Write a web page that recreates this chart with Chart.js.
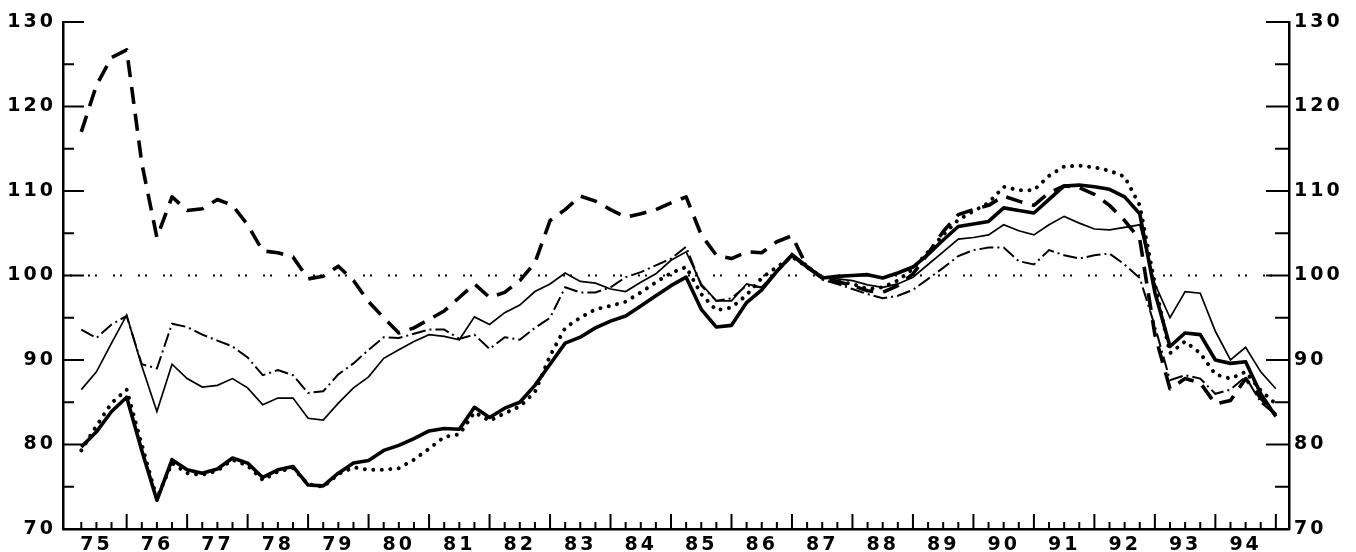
<!DOCTYPE html>
<html>
<head>
<meta charset="utf-8">
<script src="https://cdn.jsdelivr.net/npm/chart.js@4.4.1/dist/chart.umd.min.js"></script>
<style>
  html, body { margin: 0; padding: 0; background: #fff; }
  canvas { display: block; }
</style>
</head>
<body>
<canvas id="chart" width="1356" height="552"></canvas>
<script>
// quarterly index, 1975Q1 .. 1994Q4
const yearLabels = ['75', '76', '77', '78', '79', '80', '81', '82', '83', '84',
  '85', '86', '87', '88', '89', '90', '91', '92', '93', '94'];
const quarters = [];
yearLabels.forEach(y => { for (let q = 1; q <= 4; q++) quarters.push(y + 'Q' + q); });

const yTickLabels = [70, 80, 90, 100, 110, 120, 130];
const refLevel = 100;

const thickSolid = [
  79.7, 81.5, 83.9, 85.6, 79.3, 73.4, 78.2, 77.0, 76.6, 77.1,
  78.4, 77.8, 76.1, 77.0, 77.4, 75.2, 75.1, 76.6, 77.8, 78.1,
  79.3, 79.9, 80.7, 81.6, 81.9, 81.8, 84.4, 83.2, 84.3, 85.0,
  87.0, 89.5, 92.0, 92.7, 93.8, 94.6, 95.2, 96.4, 97.6, 98.8,
  99.8, 96.0, 93.9, 94.1, 96.8, 98.3, 100.5, 102.4, 101.0, 99.7,
  99.9, 100.0, 100.1, 99.7, 100.3, 101.0, 102.5, 104.2, 105.8, 106.1,
  106.4, 108.0, 107.7, 107.4, 109.0, 110.6, 110.7, 110.5, 110.2, 109.3,
  107.3, 98.0, 91.6, 93.2, 93.0, 90.0, 89.6, 89.8, 86.0, 83.3
];
const thinSolid = [
  86.5, 88.6, 92.0, 95.3, 89.3, 83.9, 89.5, 87.8, 86.8, 87.0,
  87.8, 86.7, 84.7, 85.5, 85.5, 83.1, 82.9, 84.9, 86.7, 88.0,
  90.2, 91.2, 92.2, 93.0, 92.8, 92.4, 95.1, 94.2, 95.6, 96.5,
  98.1, 99.0, 100.3, 99.3, 99.1, 98.4, 98.1, 99.2, 100.2, 101.8,
  102.8, 99.0, 97.0, 97.0, 99.0, 98.6, 100.6, 102.6, 101.2, 99.7,
  99.6, 99.4, 98.9, 98.6, 99.0, 99.8, 101.3, 102.8, 104.3, 104.5,
  104.8, 106.0, 105.3, 104.8, 106.0, 107.0, 106.2, 105.5, 105.4, 105.7,
  106.0, 99.0, 95.0, 98.1, 97.9, 93.4, 90.0, 91.5, 88.6, 86.6
];
const dotted = [
  79.3, 82.2, 84.9, 86.5, 80.0, 73.6, 77.8, 76.6, 76.4, 76.9,
  78.2, 77.5, 75.8, 76.8, 77.2, 75.3, 75.0, 76.5, 77.3, 77.0,
  77.0, 77.2, 78.2, 79.5, 80.9, 81.2, 83.8, 82.8, 83.7, 84.5,
  86.2, 90.5, 93.8, 95.0, 96.0, 96.4, 96.9, 98.0, 99.2, 100.3,
  101.0, 97.8, 95.9, 96.2, 97.7, 99.7, 101.0, 102.2, 101.0, 99.8,
  99.3, 99.0, 98.4, 98.6, 99.4, 100.8, 102.8, 104.8, 106.6, 107.6,
  108.6, 110.5, 110.1, 110.1, 111.8, 112.9, 113.0, 112.8, 112.4, 111.7,
  108.3, 99.0, 90.8, 92.2, 90.8, 88.3, 87.8, 88.6, 86.4, 84.8
];
const dashed = [
  117.0, 122.5, 125.8, 126.7, 113.3, 104.5, 109.3, 107.7, 107.9, 109.0,
  108.3, 106.0, 102.9, 102.7, 102.2, 99.6, 99.9, 101.1, 99.4, 96.9,
  95.0, 93.2, 93.8, 94.8, 95.8, 97.4, 99.0, 97.4, 98.0, 99.4,
  101.5, 106.5, 107.8, 109.4, 108.8, 107.8, 106.9, 107.3, 107.8, 108.6,
  109.3, 104.8, 102.4, 102.0, 102.8, 102.7, 104.0, 104.7, 101.0, 99.8,
  99.3, 98.8, 98.2, 98.0, 98.8, 100.2, 102.6, 105.2, 107.2, 107.8,
  108.3, 109.4, 108.8, 108.3, 109.8, 110.6, 110.4, 109.6, 108.3, 106.5,
  104.3, 93.0, 86.6, 87.8, 87.3, 84.8, 85.2, 87.8, 85.5, 83.5
];
const dashDot = [
  93.6, 92.6, 94.2, 95.2, 89.5, 89.0, 94.3, 93.9, 93.0, 92.3,
  91.6, 90.3, 88.2, 88.8, 88.2, 86.1, 86.3, 88.3, 89.6, 91.2,
  92.7, 92.6, 93.1, 93.6, 93.6, 92.5, 93.0, 91.3, 92.7, 92.4,
  93.8, 95.0, 98.6, 98.0, 98.0, 98.6, 99.8, 100.4, 101.2, 102.0,
  103.4, 98.8, 97.0, 97.3, 98.8, 98.6, 100.4, 102.3, 101.3, 99.5,
  99.0, 98.4, 97.8, 97.3, 97.6, 98.3, 99.6, 100.9, 102.3, 103.0,
  103.3, 103.3, 101.7, 101.3, 103.0, 102.4, 102.0, 102.4, 102.6, 101.3,
  99.7, 94.0, 87.6, 88.2, 87.8, 86.0, 86.5, 88.0, 85.0, 83.5
];

const xMin = -1.21;
const xMax = 79.87;

function pts(values) {
  return values.map((v, i) => ({ x: i, y: v }));
}

// tick marks point inward, so draw them ourselves off the scales
const innerTicks = {
  id: 'innerTicks',
  beforeDraw(chart) {
    chart.ctx.letterSpacing = '3px';
  },
  afterDraw(chart) {
    const { ctx, chartArea: a, scales } = chart;
    ctx.save();
    ctx.strokeStyle = '#000';
    ctx.lineWidth = 2;
    ctx.beginPath();
    scales.y.ticks.forEach(t => {
      const py = scales.y.getPixelForValue(t.value);
      const len = t.value % 10 === 0 ? 21 : 11;
      ctx.moveTo(a.left, py);
      ctx.lineTo(a.left + len, py);
    });
    scales.y2.ticks.forEach(t => {
      const py = scales.y2.getPixelForValue(t.value);
      const len = t.value % 10 === 0 ? 23 : 14;
      ctx.moveTo(a.right, py);
      ctx.lineTo(a.right - len, py);
    });
    scales.x.ticks.forEach(t => {
      const px = scales.x.getPixelForValue(t.value);
      const len = t.value % 4 === 3 ? 15 : 7;
      ctx.moveTo(px, a.bottom);
      ctx.lineTo(px, a.bottom - len);
    });
    ctx.stroke();
    ctx.restore();
  }
};

const font = { family: 'DejaVu Sans', size: 19, weight: 'bold' };

const yAxis = (position, pad, width) => ({
  type: 'linear',
  position: position,
  min: 70,
  max: 130,
  grid: { display: false, drawTicks: false, tickLength: 0 },
  border: { display: true, color: '#000', width: 2.5 },
  ticks: {
    stepSize: 5,
    padding: pad,
    color: '#000',
    font: font,
    callback: v => yTickLabels.includes(v) ? String(v) : ''
  },
  afterFit: s => { s.width = width; }
});

new Chart(document.getElementById('chart'), {
  type: 'line',
  data: {
    datasets: [
      { label: 'ref', data: [{ x: xMin, y: refLevel }, { x: xMax, y: refLevel }],
        borderColor: '#000', borderWidth: 1.8, borderDash: [2, 5, 2, 16] },
      { label: 'thick', data: pts(thickSolid), borderColor: '#000', borderWidth: 3.6,
        borderJoinStyle: 'round' },
      { label: 'thin', data: pts(thinSolid), borderColor: '#000', borderWidth: 1.7 },
      { label: 'dotted', data: pts(dotted), borderColor: '#000', borderWidth: 4,
        borderDash: [0.01, 8.5], borderCapStyle: 'round' },
      { label: 'dashed', data: pts(dashed), borderColor: '#000', borderWidth: 3.6,
        borderDash: [17, 10], borderJoinStyle: 'round' },
      { label: 'dashdot', data: pts(dashDot), borderColor: '#000', borderWidth: 2,
        borderDash: [14, 4, 2, 4] }
    ]
  },
  options: {
    responsive: false,
    animation: false,
    layout: { padding: { top: 22, left: 0, right: 0, bottom: 0 } },
    elements: { point: { radius: 0 }, line: { tension: 0, fill: false } },
    plugins: { legend: { display: false }, tooltip: { enabled: false } },
    scales: {
      x: {
        type: 'linear',
        min: xMin,
        max: xMax,
        grid: { display: false, drawTicks: false, tickLength: 0 },
        border: { display: true, color: '#000', width: 2.5 },
        afterBuildTicks: s => { s.ticks = quarters.map((q, i) => ({ value: i })); },
        ticks: {
          autoSkip: false,
          maxRotation: 0,
          padding: 5,
          color: '#000',
          font: font,
          callback: v => v % 4 === 1 ? yearLabels[(v - 1) / 4] : ''
        },
        afterFit: s => { s.height = 23; }
      },
      y: yAxis('left', 7, 63),
      y2: yAxis('right', 5, 67)
    }
  },
  plugins: [innerTicks]
});
</script>
</body>
</html>
